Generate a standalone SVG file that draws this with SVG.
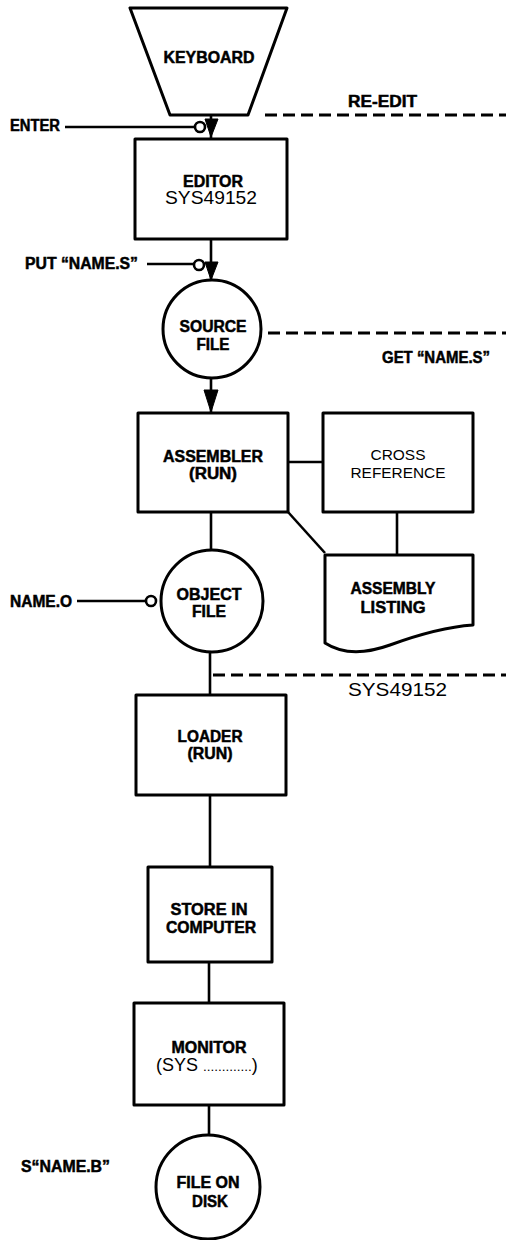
<svg xmlns="http://www.w3.org/2000/svg" width="506" height="1240" viewBox="0 0 506 1240">
<style>
.shape{fill:#fff;stroke:#000;stroke-width:3;stroke-linejoin:round}
.ln{fill:none;stroke:#000;stroke-width:2.6}
.dash{fill:none;stroke:#000;stroke-width:3;stroke-dasharray:12 6}
.ah{fill:#000;stroke:#000;stroke-width:1}
.tap{fill:#fff;stroke:#000;stroke-width:2.6}
.b{font-family:"Liberation Sans",Arial,sans-serif;font-weight:bold;font-size:16px;fill:#000;stroke:#000;stroke-width:0.5}
.r{font-family:"Liberation Sans",Arial,sans-serif;font-size:18px;fill:#000}
.c{text-anchor:middle}
</style>
<rect width="506" height="1240" fill="#fff"/>
<g id="connectors">
  <line class="ln" x1="211" y1="115" x2="211" y2="139"/>
  <polygon class="ah" points="205,119 218,119 211,137"/>
  <line class="ln" x1="211" y1="239" x2="211" y2="280"/>
  <polygon class="ah" points="205,262 218,262 211,280"/>
  <line class="ln" x1="211" y1="377" x2="211" y2="413"/>
  <polygon class="ah" points="204,390 218,390 211,412"/>
  <line class="ln" x1="288" y1="462" x2="323" y2="462"/>
  <line class="ln" x1="397" y1="512" x2="397" y2="555"/>
  <line class="ln" x1="288" y1="512" x2="325" y2="553"/>
  <line class="ln" x1="211" y1="512" x2="211" y2="550"/>
  <line class="ln" x1="210" y1="652" x2="210" y2="695"/>
  <line class="ln" x1="210" y1="795" x2="210" y2="867"/>
  <line class="ln" x1="209" y1="962" x2="209" y2="1003"/>
  <line class="ln" x1="209" y1="1105" x2="209" y2="1135"/>
  <line class="dash" x1="265" y1="115" x2="506" y2="115"/>
  <line class="dash" x1="268" y1="333" x2="506" y2="333"/>
  <line class="dash" x1="213" y1="675" x2="506" y2="675"/>
  <line class="ln" x1="65" y1="127" x2="195" y2="127"/>
  <circle class="tap" cx="200" cy="127" r="5"/>
  <line class="ln" x1="147" y1="264" x2="194" y2="264"/>
  <circle class="tap" cx="199" cy="265" r="5"/>
  <line class="ln" x1="77" y1="601" x2="146" y2="601"/>
  <circle class="tap" cx="151" cy="601" r="5"/>
</g>
<g id="labels">
  <text class="b" x="10" y="131" textLength="50" lengthAdjust="spacingAndGlyphs">ENTER</text>
  <text class="b" x="348" y="107" textLength="69" lengthAdjust="spacingAndGlyphs">RE-EDIT</text>
  <text class="b" x="25" y="269" textLength="113" lengthAdjust="spacingAndGlyphs">PUT “NAME.S”</text>
  <text class="b" x="382" y="363" textLength="108" lengthAdjust="spacingAndGlyphs">GET “NAME.S”</text>
  <text class="b" x="10" y="607" textLength="62" lengthAdjust="spacingAndGlyphs">NAME.O</text>
  <text class="r" x="348" y="696" textLength="99" lengthAdjust="spacingAndGlyphs">SYS49152</text>
  <text class="b" x="21" y="1172" textLength="89" lengthAdjust="spacingAndGlyphs">S“NAME.B”</text>
</g>
<g id="keyboard">
  <polygon class="shape" points="130,8 287,8 248,115 170,115"/>
  <text class="b c" x="209" y="63" textLength="91" lengthAdjust="spacingAndGlyphs">KEYBOARD</text>
</g>
<g id="editor">
  <rect class="shape" x="135" y="139" width="152" height="100"/>
  <text class="b c" x="213" y="187" textLength="60" lengthAdjust="spacingAndGlyphs">EDITOR</text>
  <text class="r c" x="211" y="204" textLength="92" lengthAdjust="spacingAndGlyphs">SYS49152</text>
</g>
<g id="source-file">
  <circle class="shape" cx="212" cy="329" r="49"/>
  <text class="b c" x="213" y="332" textLength="67" lengthAdjust="spacingAndGlyphs">SOURCE</text>
  <text class="b c" x="213" y="350" textLength="33" lengthAdjust="spacingAndGlyphs">FILE</text>
</g>
<g id="assembler">
  <rect class="shape" x="138" y="413" width="150" height="99"/>
  <text class="b c" x="213" y="462" textLength="100" lengthAdjust="spacingAndGlyphs">ASSEMBLER</text>
  <text class="b c" x="213" y="479" textLength="48" lengthAdjust="spacingAndGlyphs">(RUN)</text>
</g>
<g id="cross-reference">
  <rect class="shape" x="323" y="413" width="150" height="99"/>
  <text class="r c" x="398" y="460" style="font-size:15.5px" textLength="55" lengthAdjust="spacingAndGlyphs">CROSS</text>
  <text class="r c" x="398" y="478" style="font-size:15.5px" textLength="95" lengthAdjust="spacingAndGlyphs">REFERENCE</text>
</g>
<g id="assembly-listing">
  <path class="shape" d="M325,555 H473 V625 C445,627 420,634 390,645 C365,654 342,654 325,643 Z"/>
  <text class="b c" x="393" y="594" textLength="85" lengthAdjust="spacingAndGlyphs">ASSEMBLY</text>
  <text class="b c" x="393" y="613" textLength="65" lengthAdjust="spacingAndGlyphs">LISTING</text>
</g>
<g id="object-file">
  <circle class="shape" cx="212" cy="601" r="51"/>
  <text class="b c" x="209" y="600" textLength="65" lengthAdjust="spacingAndGlyphs">OBJECT</text>
  <text class="b c" x="209" y="617" textLength="34" lengthAdjust="spacingAndGlyphs">FILE</text>
</g>
<g id="loader">
  <rect class="shape" x="136" y="695" width="150" height="100"/>
  <text class="b c" x="210" y="742" textLength="65" lengthAdjust="spacingAndGlyphs">LOADER</text>
  <text class="b c" x="210" y="759" textLength="45" lengthAdjust="spacingAndGlyphs">(RUN)</text>
</g>
<g id="store-in-computer">
  <rect class="shape" x="148" y="867" width="124" height="95"/>
  <text class="b c" x="209" y="915" textLength="77" lengthAdjust="spacingAndGlyphs">STORE IN</text>
  <text class="b c" x="211" y="933" textLength="90" lengthAdjust="spacingAndGlyphs">COMPUTER</text>
</g>
<g id="monitor">
  <rect class="shape" x="134" y="1003" width="150" height="102"/>
  <text class="b c" x="209" y="1053" textLength="75" lengthAdjust="spacingAndGlyphs">MONITOR</text>
  <text class="r" x="156" y="1071">(SYS <tspan style="font-size:13.5px">.............</tspan>)</text>
</g>
<g id="file-on-disk">
  <circle class="shape" cx="208" cy="1187" r="52"/>
  <text class="b c" x="208" y="1188" textLength="63" lengthAdjust="spacingAndGlyphs">FILE ON</text>
  <text class="b c" x="210" y="1207" textLength="36" lengthAdjust="spacingAndGlyphs">DISK</text>
</g>
</svg>
